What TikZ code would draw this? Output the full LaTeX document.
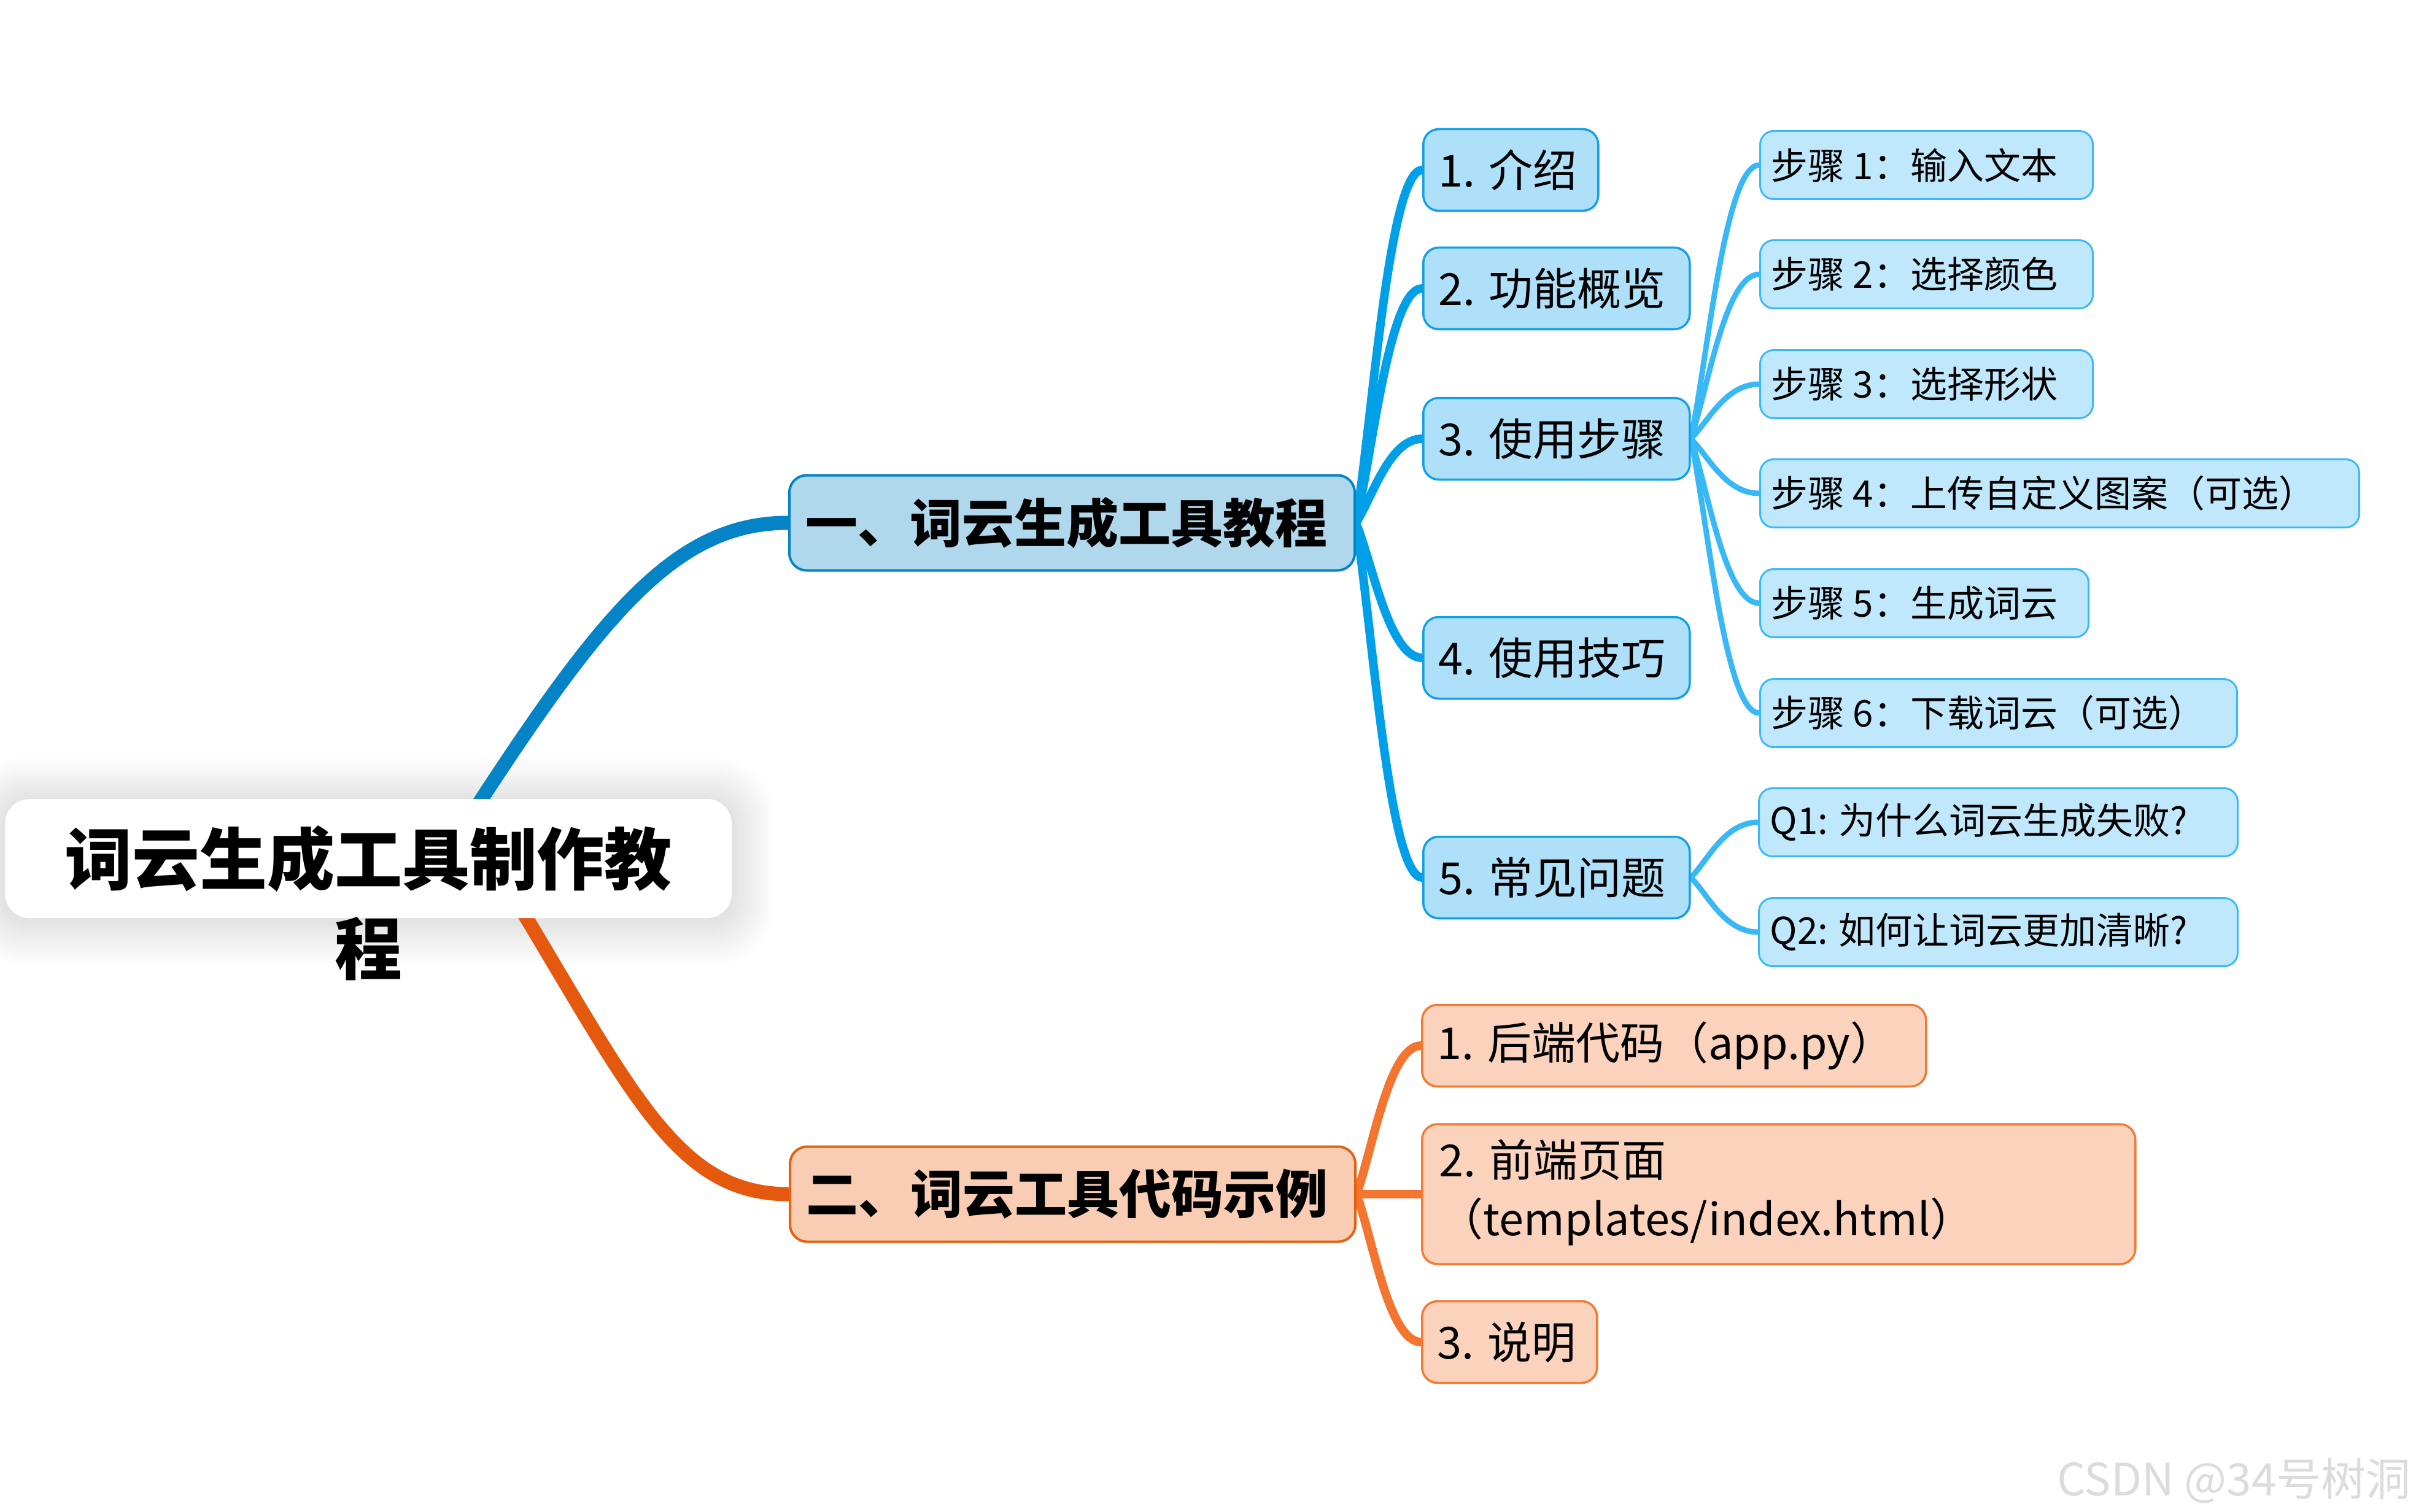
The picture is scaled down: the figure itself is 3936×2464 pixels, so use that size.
\documentclass[tikz,border=0pt]{standalone}
\usepackage{fontspec}
\setmainfont{Noto Sans CJK SC}
\usetikzlibrary{calc}
\definecolor{mainblue}{HTML}{0484C6}
\definecolor{mainorange}{HTML}{E5590F}
\definecolor{lineb}{HTML}{00A0E9}
\definecolor{linec}{HTML}{38B8F5}
\definecolor{lineo}{HTML}{F47530}
\definecolor{fillA}{HTML}{B0D8EC}
\definecolor{fillB}{HTML}{F8CDB3}
\definecolor{drawB}{HTML}{E5600F}
\definecolor{fillb}{HTML}{AEE0FA}
\definecolor{drawb}{HTML}{10A0EA}
\definecolor{fillc}{HTML}{C0E8FD}
\definecolor{drawc}{HTML}{3BB9F6}
\definecolor{fillo}{HTML}{FBD2BB}
\definecolor{drawo}{HTML}{F47A32}
\definecolor{wmgray}{HTML}{DCDCDC}
\pgfdeclarelayer{canvas}
\pgfdeclarelayer{bg}
\pgfsetlayers{canvas,bg,main}
\newcommand\lbox[2]{\makebox[#1pt][l]{#2}}
\begin{document}
\begin{tikzpicture}[x=1pt,y=-1pt,
  branch/.style={to path={let \p1=(\tikztostart), \p2=(\tikztotarget) in
      .. controls ({\x1+0.25*(\x2-\x1)},{\y1+0.3*(\y2-\y1)}) and ({\x1+0.5*(\x2-\x1)},\y2) .. (\tikztotarget)}},
  conn/.style={line cap=round, fill=none},
  mainb/.style={conn, draw=mainblue, line width=23pt},
  maino/.style={conn, draw=mainorange, line width=23pt},
  lvtwob/.style={conn, draw=lineb, line width=14pt},
  lvtwoo/.style={conn, draw=lineo, line width=14pt},
  lvthree/.style={conn, draw=linec, line width=9pt},
  rootbox/.style={fill=white, rounded corners=40pt, minimum width=1184pt, minimum height=194pt},
  glow/.style={fill=black, fill opacity=0.006},
  roottext/.style={align=center, inner sep=0pt, font=\fontsize{110}{146}\selectfont\bfseries},
  lvone/.style={line width=4pt, rounded corners=28pt, minimum height=155pt, inner xsep=26pt, inner ysep=0pt,
      anchor=west, font=\fontsize{85}{100}\selectfont\bfseries},
  boxA/.style={lvone, draw=mainblue, fill=fillA},
  boxB/.style={lvone, draw=drawB, fill=fillB},
  lvtwo/.style={line width=3.5pt, rounded corners=25pt, minimum height=133pt, inner xsep=25pt, inner ysep=0pt,
      anchor=west, font=\fontsize{72}{96}\selectfont},
  boxb/.style={lvtwo, draw=drawb, fill=fillb},
  boxo/.style={lvtwo, draw=drawo, fill=fillo},
  boxc/.style={line width=3pt, rounded corners=22pt, minimum height=111pt, inner xsep=18pt, inner ysep=0pt,
      anchor=west, draw=drawc, fill=fillc, font=\fontsize{60}{72}\selectfont},
]
\useasboundingbox (0,0) rectangle (3936,2464);
\begin{pgfonlayer}{canvas}
\fill[white] (0,0) rectangle (3936,2464);
\foreach \i in {1,...,14}
  \fill[glow, rounded corners={40+4*\i}] ({8-5*\i},{1306-5*\i}) rectangle ({1192+5*\i},{1500+5*\i});
\end{pgfonlayer}

\coordinate (rootA) at (760,1340);
\coordinate (rootB) at (830,1450);

% root
\node[rootbox] (root) at (600,1399) {};

% level 1
\node[boxA] (A) at (1284,852) {\lbox{869}{一、词云生成工具教程}};
\node[boxB] (B) at (1285,1946) {\lbox{869}{二、词云工具代码示例}};

% level 2 blue
\node[boxb] (b1) at (2317,277) {\lbox{235}{1. 介绍}};
\node[boxb] (b2) at (2317,470) {\lbox{384}{2. 功能概览}};
\node[boxb] (b3) at (2317,715) {\lbox{384}{3. 使用步骤}};
\node[boxb] (b4) at (2317,1072) {\lbox{384}{4. 使用技巧}};
\node[boxb] (b5) at (2317,1430) {\lbox{384}{5. 常见问题}};

% level 3
\node[boxc] (s1) at (2866,269) {\lbox{506}{步骤 1：输入文本}};
\node[boxc] (s2) at (2866,447) {\lbox{506}{步骤 2：选择颜色}};
\node[boxc] (s3) at (2866,626) {\lbox{506}{步骤 3：选择形状}};
\node[boxc] (s4) at (2866,804) {\lbox{940}{步骤 4：上传自定义图案（可选）}};
\node[boxc] (s5) at (2866,983) {\lbox{499}{步骤 5：生成词云}};
\node[boxc] (s6) at (2866,1162) {\lbox{741}{步骤 6：下载词云（可选）}};
\node[boxc] (q1) at (2864,1340) {\lbox{744}{Q1: 为什么词云生成失败?}};
\node[boxc] (q2) at (2864,1519) {\lbox{744}{Q2: 如何让词云更加清晰?}};

% level 2 orange
\node[boxo] (o1) at (2315,1704) {\lbox{771}{1. 后端代码（app.py）}};
\node[boxo, minimum height=228pt, inner xsep=28pt] (o2) at (2315,1946)
  {\lbox{1106}{\begin{tabular}{@{}l@{}}2. 前端页面\\（templates/index.html）\end{tabular}}};
\node[boxo] (o3) at (2315,2187) {\lbox{235}{3. 说明}};

% root title text (overflows box as in original)
\node[roottext] (roottitle) at (600,1472) {词云生成工具制作教\\程};

% watermark
\node[anchor=base east, inner sep=0pt, text=wmgray, font=\fontsize{73}{80}\selectfont] (wm) at (3928,2437) {CSDN @34号树洞};

\begin{pgfonlayer}{bg}
\draw[mainb] (rootA) .. controls +(220,-340) and +(-184,0) .. (A.west);
\draw[maino] (rootB) .. controls +(200,330) and +(-184,0) .. (B.west);
\foreach \k in {b1,b2,b3,b4,b5} \draw[lvtwob] (A.east) to[branch] (\k.west);
\foreach \k in {s1,s2,s3,s4,s5,s6} \draw[lvthree] (b3.east) to[branch] (\k.west);
\foreach \k in {q1,q2} \draw[lvthree] (b5.east) to[branch] (\k.west);
\foreach \k in {o1,o2,o3} \draw[lvtwoo] (B.east) to[branch] (\k.west);
\end{pgfonlayer}
\end{tikzpicture}
\end{document}
